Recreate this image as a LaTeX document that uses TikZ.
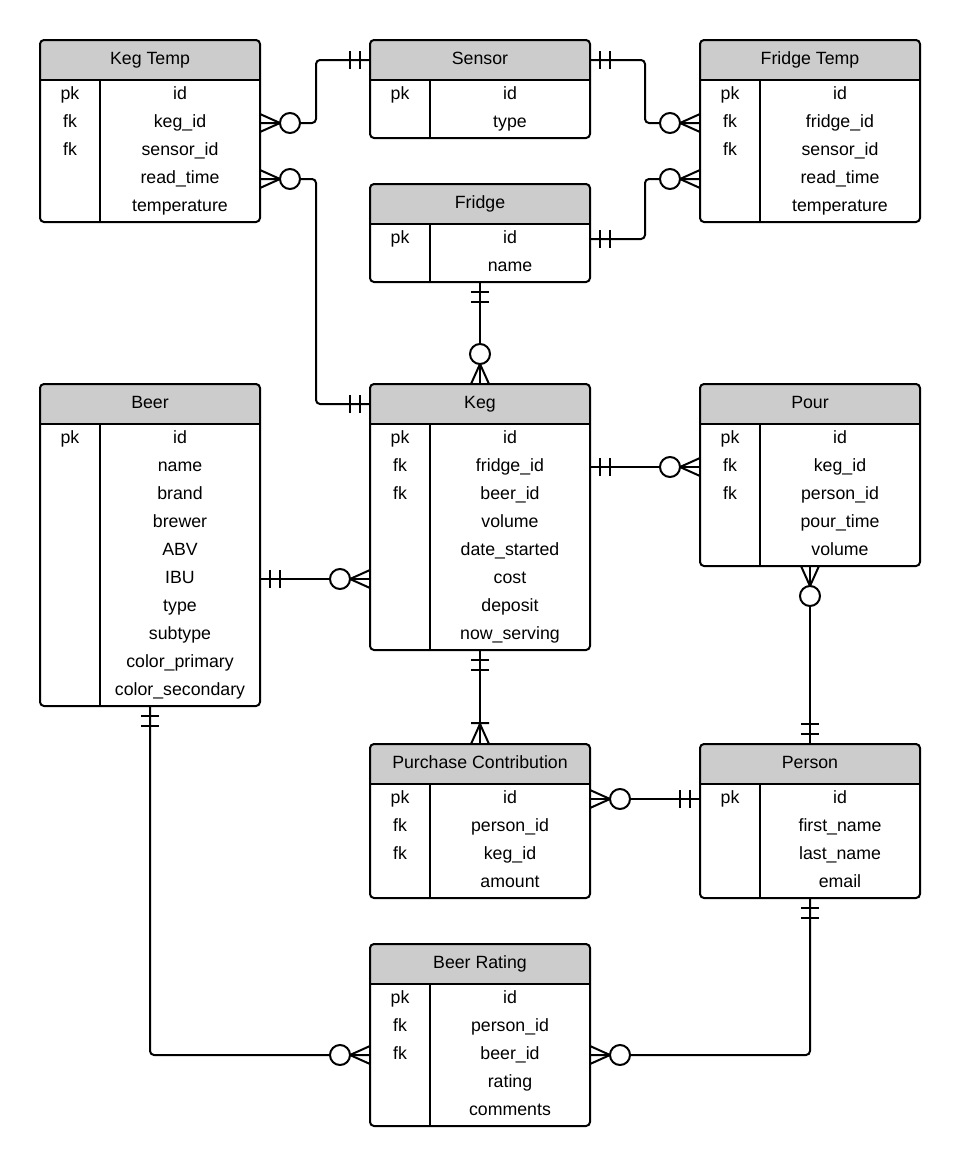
\documentclass[tikz,border=0pt]{standalone}
\usepackage{fontspec}
\setmainfont{Liberation Sans}

\definecolor{hdrgray}{HTML}{CCCCCC}

\tikzset{
  erline/.style={line width=1.5pt, rounded corners=3pt},
  tablebox/.style={draw, line width=1.5pt, rounded corners=3pt, minimum width=165pt,
    inner sep=0pt, outer sep=0pt, anchor=north west,
    path picture={\fill[hdrgray] (path picture bounding box.north west)
      rectangle ([yshift=-30pt]path picture bounding box.north east);}},
  celltext/.style={inner sep=0pt, text height=9.5pt, text depth=2.8pt},
  % relation ends
  onlyone/.pic={\draw[line width=1.5pt] (10,-9) -- (10,9) (20,-9) -- (20,9);},
  onemany/.pic={\draw[line width=1.5pt] (0,-9) -- (20,0) -- (0,9) (21,-9) -- (21,9);},
  zeromany/.pic={\draw[line width=1.5pt] (0,-9) -- (20,0) -- (0,9);
    \draw[line width=1.5pt, fill=white] (30,0) circle (7.5pt);},
}

% #1 name, #2 x, #3 y, #4 title, #5 number of rows, #6 rows
\newcommand{\ertable}[6]{%
  \pgfmathsetmacro{\tblh}{(42+28*#5)*0.75}
  \node[tablebox, minimum height=\tblh pt] (#1) at (#2,#3) {};
  \draw[line width=1.5pt] ([yshift=-30pt]#1.north west) -- ([yshift=-30pt]#1.north east);
  \draw[line width=1.5pt] ([xshift=45pt,yshift=-30pt]#1.north west) -- ([xshift=45pt]#1.south west);
  \node[celltext] (#1-t) at ({#2+110},{#3+20}) {#4};
  \foreach \k/\f [count=\i] in {#6} {
    \node[celltext] (#1-k\i) at ({#2+30},{#3+27+28*\i}) {\k};
    \node[celltext] (#1-\i) at ({#2+140},{#3+27+28*\i}) {\f};
  }
}

\begin{document}
\begin{tikzpicture}[x=0.75pt, y=-0.75pt, font=\fontsize{13.3}{16}\selectfont]
  \useasboundingbox (0,0) rectangle (960,1167);

  % Tables
  \ertable{kegtemp}{40}{40}{Keg Temp}{5}{pk/id, fk/keg\_id, fk/sensor\_id, /read\_time, /temperature}
  \ertable{sensor}{370}{40}{Sensor}{2}{pk/id, /type}
  \ertable{fridgetemp}{700}{40}{Fridge Temp}{5}{pk/id, fk/fridge\_id, fk/sensor\_id, /read\_time, /temperature}
  \ertable{fridge}{370}{184}{Fridge}{2}{pk/id, /name}
  \ertable{beer}{40}{384}{Beer}{10}{pk/id, /name, /brand, /brewer, /ABV, /IBU, /type, /subtype, /color\_primary, /color\_secondary}
  \ertable{keg}{370}{384}{Keg}{8}{pk/id, fk/fridge\_id, fk/beer\_id, /volume, /date\_started, /cost, /deposit, /now\_serving}
  \ertable{pour}{700}{384}{Pour}{5}{pk/id, fk/keg\_id, fk/person\_id, /pour\_time, /volume}
  \ertable{purchase}{370}{744}{Purchase Contribution}{4}{pk/id, fk/person\_id, fk/keg\_id, /amount}
  \ertable{person}{700}{744}{Person}{4}{pk/id, /first\_name, /last\_name, /email}
  \ertable{rating}{370}{944}{Beer Rating}{5}{pk/id, fk/person\_id, fk/beer\_id, /rating, /comments}

  % Relations
  \draw[erline] (kegtemp.east |- kegtemp-2) -- ++(56,0) |- (sensor.west |- sensor-t);
  \pic at (kegtemp.east |- kegtemp-2) {zeromany};
  \pic[rotate=180] at (sensor.west |- sensor-t) {onlyone};

  \draw[erline] (kegtemp.east |- kegtemp-4) -- ++(56,0) |- (keg.west |- keg-t);
  \pic at (kegtemp.east |- kegtemp-4) {zeromany};
  \pic[rotate=180] at (keg.west |- keg-t) {onlyone};

  \draw[erline] (sensor.east |- sensor-t) -- ++(55,0) |- (fridgetemp.west |- fridgetemp-2);
  \pic at (sensor.east |- sensor-t) {onlyone};
  \pic[rotate=180] at (fridgetemp.west |- fridgetemp-2) {zeromany};

  \draw[erline] (fridge.east |- fridge-1) -- ++(55,0) |- (fridgetemp.west |- fridgetemp-4);
  \pic at (fridge.east |- fridge-1) {onlyone};
  \pic[rotate=180] at (fridgetemp.west |- fridgetemp-4) {zeromany};

  \draw[erline] (fridge.south) -- (keg.north);
  \pic[rotate=-90] at (fridge.south) {onlyone};
  \pic[rotate=90] at (keg.north) {zeromany};

  \draw[erline] (beer.east |- beer-6) -- (keg.west |- beer-6);
  \pic at (beer.east |- beer-6) {onlyone};
  \pic[rotate=180] at (keg.west |- beer-6) {zeromany};

  \draw[erline] (keg.east |- keg-2) -- (pour.west |- keg-2);
  \pic at (keg.east |- keg-2) {onlyone};
  \pic[rotate=180] at (pour.west |- keg-2) {zeromany};

  \draw[erline] (keg.south) -- (purchase.north);
  \pic[rotate=-90] at (keg.south) {onlyone};
  \pic[rotate=90] at (purchase.north) {onemany};

  \draw[erline] (pour.south) -- (person.north);
  \pic[rotate=-90] at (pour.south) {zeromany};
  \pic[rotate=90] at (person.north) {onlyone};

  \draw[erline] (purchase.east |- purchase-1) -- (person.west |- purchase-1);
  \pic at (purchase.east |- purchase-1) {zeromany};
  \pic[rotate=180] at (person.west |- purchase-1) {onlyone};

  \draw[erline] (beer.south) |- (rating.west |- rating-3);
  \pic[rotate=-90] at (beer.south) {onlyone};
  \pic[rotate=180] at (rating.west |- rating-3) {zeromany};

  \draw[erline] (person.south) |- (rating.east |- rating-3);
  \pic[rotate=-90] at (person.south) {onlyone};
  \pic at (rating.east |- rating-3) {zeromany};
\end{tikzpicture}
\end{document}
